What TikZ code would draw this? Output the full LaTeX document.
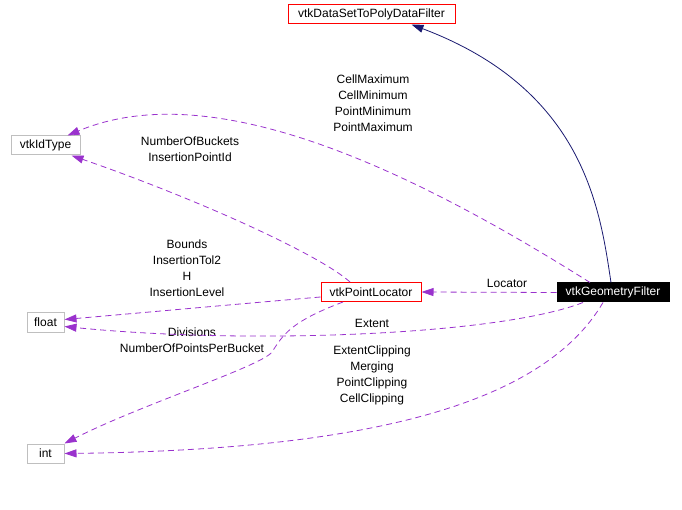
\documentclass[tikz,border=0pt]{standalone}
\usepackage{fontspec}
\setmainfont{Liberation Sans}
\usepackage{tikz}
\usetikzlibrary{arrows.meta,positioning}
\definecolor{edgepurple}{HTML}{9A32CD}
\definecolor{inhblue}{HTML}{191970}
\definecolor{boxgray}{HTML}{BFBFBF}

\begin{document}
\begin{tikzpicture}[x=1pt,y=-1pt,
  font=\fontsize{12}{16}\selectfont,
  cls/.style={draw=boxgray,line width=1pt,inner sep=0pt,minimum height=19pt},
  redcls/.style={cls,draw=red},
  maincls/.style={cls,draw=black,fill=black,text=white},
  lbl/.style={align=center,inner sep=0pt},
  member/.style={edgepurple,line width=0.8pt,dash pattern=on 6pt off 4pt,
    -{Triangle[length=12pt,width=8pt]}},
  inherit/.style={inhblue,line width=0.8pt,-{Triangle[length=12pt,width=8pt]}}]
  \useasboundingbox (0,0) rectangle (682,510);

  % classes
  \node[redcls,minimum width=167pt] (dataset) at (371.5,14.5) {vtkDataSetToPolyDataFilter};
  \node[cls,minimum width=69pt] (idtype) at (45.5,145.5) {vtkIdType};
  \node[redcls,minimum width=100pt] (loc) at (371,292) {vtkPointLocator};
  \node[maincls,minimum width=112pt] (geo) at (613,292.5) {vtkGeometryFilter};
  \node[cls,minimum width=37pt] (float) at (45.5,322.5) {float};
  \node[cls,minimum width=37pt] (int) at (45.5,453.5) {int};

  % edge labels
  \node[lbl] (lblcell) at (373,103) {CellMaximum\\CellMinimum\\PointMinimum\\PointMaximum};
  \node[lbl] (lblbuck) at (190,149) {NumberOfBuckets\\InsertionPointId};
  \node[lbl] (lblbnd) at (187,268) {Bounds\\InsertionTol2\\H\\InsertionLevel};
  \node[lbl] (lblloc) at (507,283) {Locator};
  \node[lbl] (lblext) at (372,323) {Extent};
  \node[lbl] (lbldiv) at (192,340.5) {Divisions\\NumberOfPointsPerBucket};
  \node[lbl] (lblclip) at (372,375) {ExtentClipping\\Merging\\PointClipping\\CellClipping};

  % inheritance
  \draw[inherit] ([xshift=-2pt]geo.north) .. controls (600,210) and (585,90) .. ([xshift=40pt]dataset.south);

  % usage
  \draw[member] ([xshift=-23pt]geo.north) .. controls (380,150) and (200,80) .. ([xshift=22pt]idtype.north);
  \draw[member] ([xshift=-21pt]loc.north) .. controls (320,255) and (200,200) .. ([xshift=26pt]idtype.south);
  \draw[member] ([yshift=-5pt]loc.west) .. controls (250,303) and (150,312) .. ([yshift=3pt]float.east);
  \draw[member] ([xshift=-30pt]geo.south) .. controls (500,335) and (250,345) .. ([yshift=-4pt]float.east);
  \draw[member] ([xshift=-28pt]loc.south) .. controls (290,322) and (283,335) .. (272,352)
    .. controls (262,366) and (140,405) .. (int.north east);
  \draw[member] ([xshift=-10pt]geo.south) .. controls (540,410) and (350,450) .. (int.east);
  \draw[member] (geo.west) -- (loc.east);
\end{tikzpicture}
\end{document}
